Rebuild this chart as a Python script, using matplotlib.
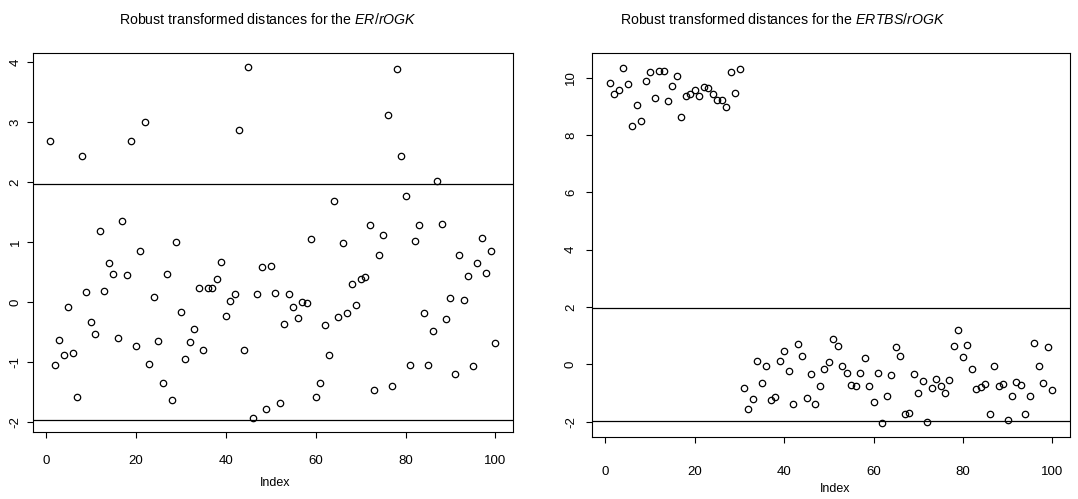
import numpy as np
import matplotlib
matplotlib.use("Agg")
import matplotlib.pyplot as plt

plt.rcParams['font.family'] = ['Liberation Sans', 'DejaVu Sans']
plt.rcParams['mathtext.fontset'] = 'custom'
plt.rcParams['mathtext.rm'] = 'Liberation Sans'
plt.rcParams['mathtext.it'] = 'Liberation Sans:italic'

# robust transformed distances, ER/rOGK
er_rogk = [2.68, -1.05, -0.63, -0.88, -0.08, -0.84, -1.57, 2.43, 0.17, -0.32,
           -0.53, 1.18, 0.18, 0.65, 0.47, -0.60, 1.35, 0.45, 2.68, -0.72,
           0.85, 3.00, -1.02, 0.08, -0.64, -1.34, 0.47, -1.62, 1.00, -0.16,
           -0.95, -0.66, -0.45, 0.24, -0.80, 0.23, 0.24, 0.38, 0.67, -0.22,
           0.02, 0.14, 2.87, -0.79, 3.91, -1.92, 0.13, 0.59, -1.78, 0.61,
           0.16, -1.68, -0.36, 0.13, -0.08, -0.26, 0.00, -0.02, 1.05, -1.58,
           -1.35, -0.38, -0.88, 1.69, -0.25, 0.98, -0.18, 0.30, -0.04, 0.39,
           0.42, 1.29, -1.46, 0.79, 1.12, 3.11, -1.39, 3.89, 2.43, 1.77,
           -1.04, 1.02, 1.29, -0.17, -1.05, -0.48, 2.01, 1.31, -0.27, 0.07,
           -1.20, 0.78, 0.04, 0.44, -1.06, 0.66, 1.07, 0.48, 0.86, -0.67]

# robust transformed distances, ERTBS/rOGK
ertbs_rogk = [9.82, 9.42, 9.56, 10.35, 9.76, 8.30, 9.05, 8.47, 9.88, 10.19,
              9.28, 10.23, 10.23, 9.20, 9.72, 10.05, 8.62, 9.35, 9.43, 9.55,
              9.36, 9.67, 9.64, 9.42, 9.23, 9.23, 8.99, 10.21, 9.46, 10.30,
              -0.81, -1.57, -1.22, 0.13, -0.65, -0.07, -1.24, -1.14, 0.13, 0.48,
              -0.24, -1.39, 0.71, 0.28, -1.16, -0.35, -1.40, -0.77, -0.18, 0.09,
              0.88, 0.65, -0.06, -0.30, -0.71, -0.74, -0.30, 0.22, -0.77, -1.31,
              -0.31, -2.04, -1.12, -0.36, 0.61, 0.29, -1.74, -1.69, -0.35, -1.00,
              -0.59, -2.01, -0.84, -0.52, -0.77, -0.99, -0.53, 0.65, 1.19, 0.26,
              0.69, -0.17, -0.86, -0.80, -0.70, -1.72, -0.07, -0.74, -0.70, -1.94,
              -1.12, -0.60, -0.72, -1.72, -1.09, 0.76, -0.07, -0.65, 0.62, -0.88]

cutoff = 1.96
index = np.arange(1, 101)


def r_lim(v):
    lo, hi = min(v), max(v)
    d = 0.04 * (hi - lo)
    return lo - d, hi + d


fig = plt.figure(figsize=(10.78, 4.99), dpi=100)
ax1 = fig.add_axes([0.0303, 0.1349, 0.4458, 0.7583])
ax2 = fig.add_axes([0.5494, 0.1242, 0.4431, 0.7689])

panels = [
    (ax1, er_rogk, [-2, -1, 0, 1, 2, 3, 4], 3.5, 12.5),
    (ax2, ertbs_rogk, [-2, 0, 2, 4, 6, 8, 10], 6.5, 16.5),
]
for ax, vals, yt, ypad, xpad in panels:
    ax.plot(index, vals, linestyle='none', marker='o', markersize=4.6,
            markerfacecolor='none', markeredgecolor='black', markeredgewidth=0.9)
    ax.axhline(cutoff, color='black', lw=0.9)
    ax.axhline(-cutoff, color='black', lw=0.9)
    ax.set_xlim(r_lim(index))
    ax.set_ylim(r_lim(vals))
    ax.set_xticks([0, 20, 40, 60, 80, 100])
    ax.set_yticks(yt)
    ax.set_yticklabels([str(t) for t in yt], rotation=90, va='center')
    ax.tick_params(axis='both', direction='out', length=4.5, width=0.8,
                   labelsize=9.5, color='black')
    ax.tick_params(axis='y', pad=ypad)
    ax.tick_params(axis='x', pad=xpad)
    for s in ax.spines.values():
        s.set_linewidth(0.8)

fig.text(275 / 1078, 1 - 483 / 499, 'Index', ha='center', va='center', fontsize=9)
fig.text(835 / 1078, 1 - 489 / 499, 'Index', ha='center', va='center', fontsize=9)

fig.text(268 / 1078, 1 - 20 / 499,
         r'Robust transformed distances for the $ER/rOGK$',
         ha='center', va='center', fontsize=10.2)
fig.text(783 / 1078, 1 - 20 / 499,
         r'Robust transformed distances for the $ERTBS/rOGK$',
         ha='center', va='center', fontsize=10.2)

fig.savefig('out.png', dpi=100)
